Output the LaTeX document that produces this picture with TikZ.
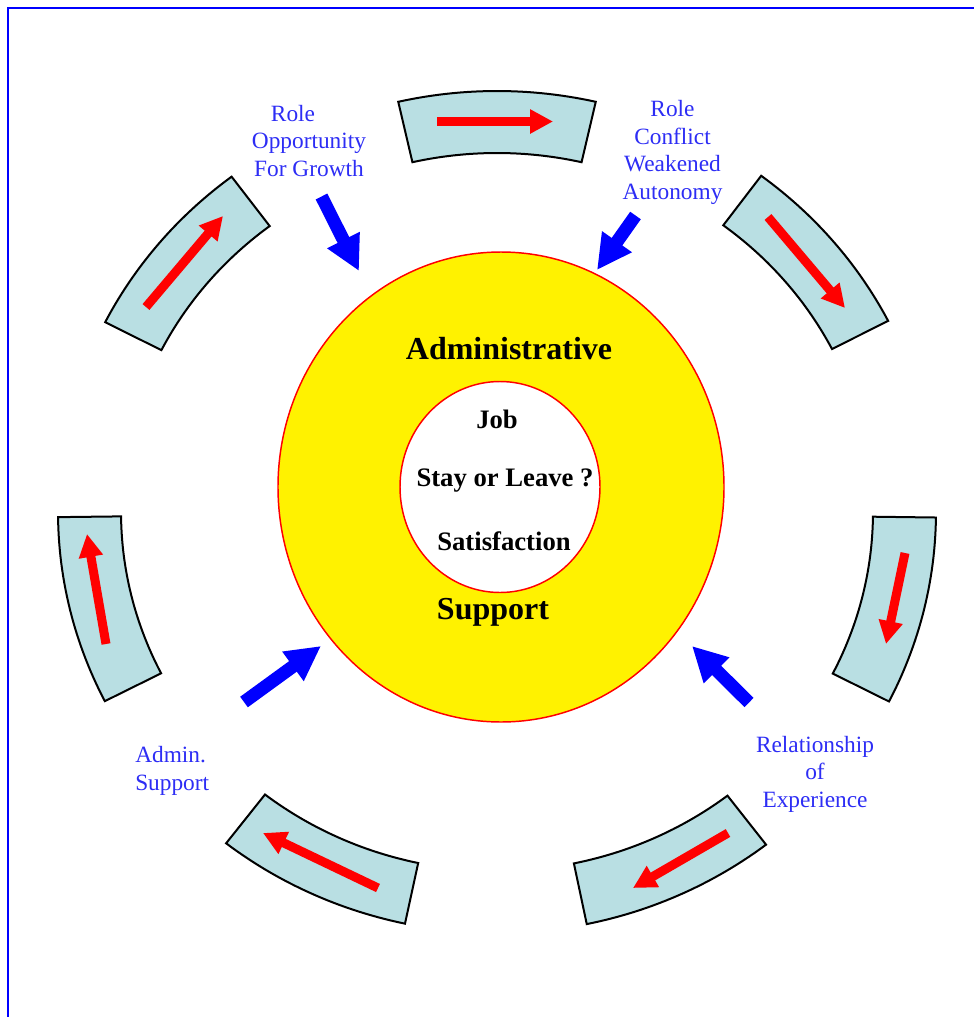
\documentclass[tikz,border=0pt]{standalone}
\usepackage{fontspec}
\setmainfont{Liberation Serif}
\usetikzlibrary{arrows.meta,shapes.geometric}
\definecolor{segfill}{RGB}{185,223,227}
\definecolor{labelblue}{RGB}{45,45,245}
\begin{document}
\begin{tikzpicture}[x=0.75pt,y=-0.75pt,
  segstyle/.style={fill=segfill,draw=black,line width=1.5pt,line join=miter},
  redarr/.style={draw=red,line width=6.75pt,-{Triangle[length=17.25pt,width=17.25pt]}},
  bluearr/.style={draw=blue,line width=9.75pt,-{Triangle[length=26pt,width=25.5pt]}},
  lbl/.style={text=labelblue,font=\fontsize{17.5}{20.6}\selectfont,inner sep=0pt},
  ctrtext/.style={font=\bfseries\fontsize{24}{28}\selectfont,inner sep=0pt},
  inrtext/.style={font=\bfseries\fontsize{20}{24}\selectfont,inner sep=0pt},
  frameline/.style={draw=blue,line width=1.6pt}]
\useasboundingbox (0,0) rectangle (974,1017);
\fill[white] (0,0) rectangle (974,1017);
\draw[frameline] (8,1040) -- (8,8) -- (1000,8);

% ring segments
\foreach \a in {90,40,-13.75,-65.2,-115.1,-166.3,140.2}{
  \pgfmathsetmacro\segS{\a-13}
  \pgfmathsetmacro\segE{\a+13}
  \filldraw[segstyle]
    plot[domain=\segS:\segE,samples=30] ({497+439*cos(\x)},{512-421*sin(\x)})
    -- plot[domain=\segE:\segS,samples=30] ({497+376*cos(\x)},{512-359*sin(\x)})
    -- cycle;
}

% red arrows (clockwise)
\draw[redarr] (437,121.5) -- (553,121.5);
\draw[redarr] (768,217) -- (845,308);
\draw[redarr] (905,553) -- (886,644);
\draw[redarr] (728,833) -- (633,888);
\draw[redarr] (378,888) -- (263,833);
\draw[redarr] (106,644) -- (87,534);
\draw[redarr] (146,307) -- (223,216);

% central ellipses
\node (outerell) [ellipse,draw=red,fill=yellow,line width=1.1pt,
  minimum width=334.5pt,minimum height=352.5pt,inner sep=0pt] at (501,487) {};
\node (innerell) [ellipse,draw=red,fill=white,line width=1.1pt,
  minimum width=150pt,minimum height=158.25pt,inner sep=0pt] at (500,487) {};

\node (admin) [ctrtext] at (509,349) {Administrative};
\node (support) [ctrtext] at (493,612) {Support};
\node (job) [inrtext] at (497,419) {Job};
\node (stay) [inrtext] at (505,481) {Stay or Leave ?};
\node (satis) [inrtext] at (504,541) {Satisfaction};

% labels
\node (lblopp) [lbl,align=center] at (309,141) {Role\hspace*{24pt}\\Opportunity\\For Growth};
\node (lblconf) [lbl,align=center] at (672.5,152.5) {Role\\Conflict\\Weakened\\Autonomy};
\node (lbladm) [lbl,align=left,anchor=west] at (135,771) {Admin.\\Support};
\node (lblrel) [lbl,align=center] at (815,774) {Relationship\\of\\Experience};

% blue arrows
\coordinate (b1s) at (321.5,196.5); \coordinate (b1e) at (359,271);
\coordinate (b2s) at (635.5,215.5); \coordinate (b2e) at (597,270);
\coordinate (b3s) at (244,702);     \coordinate (b3e) at (321,646);
\coordinate (b4s) at (749,702.5);   \coordinate (b4e) at (692,646);
\draw[bluearr] (b1s) -- (b1e);
\draw[bluearr] (b2s) -- (b2e);
\draw[bluearr] (b3s) -- (b3e);
\draw[bluearr] (b4s) -- (b4e);
\end{tikzpicture}
\end{document}
